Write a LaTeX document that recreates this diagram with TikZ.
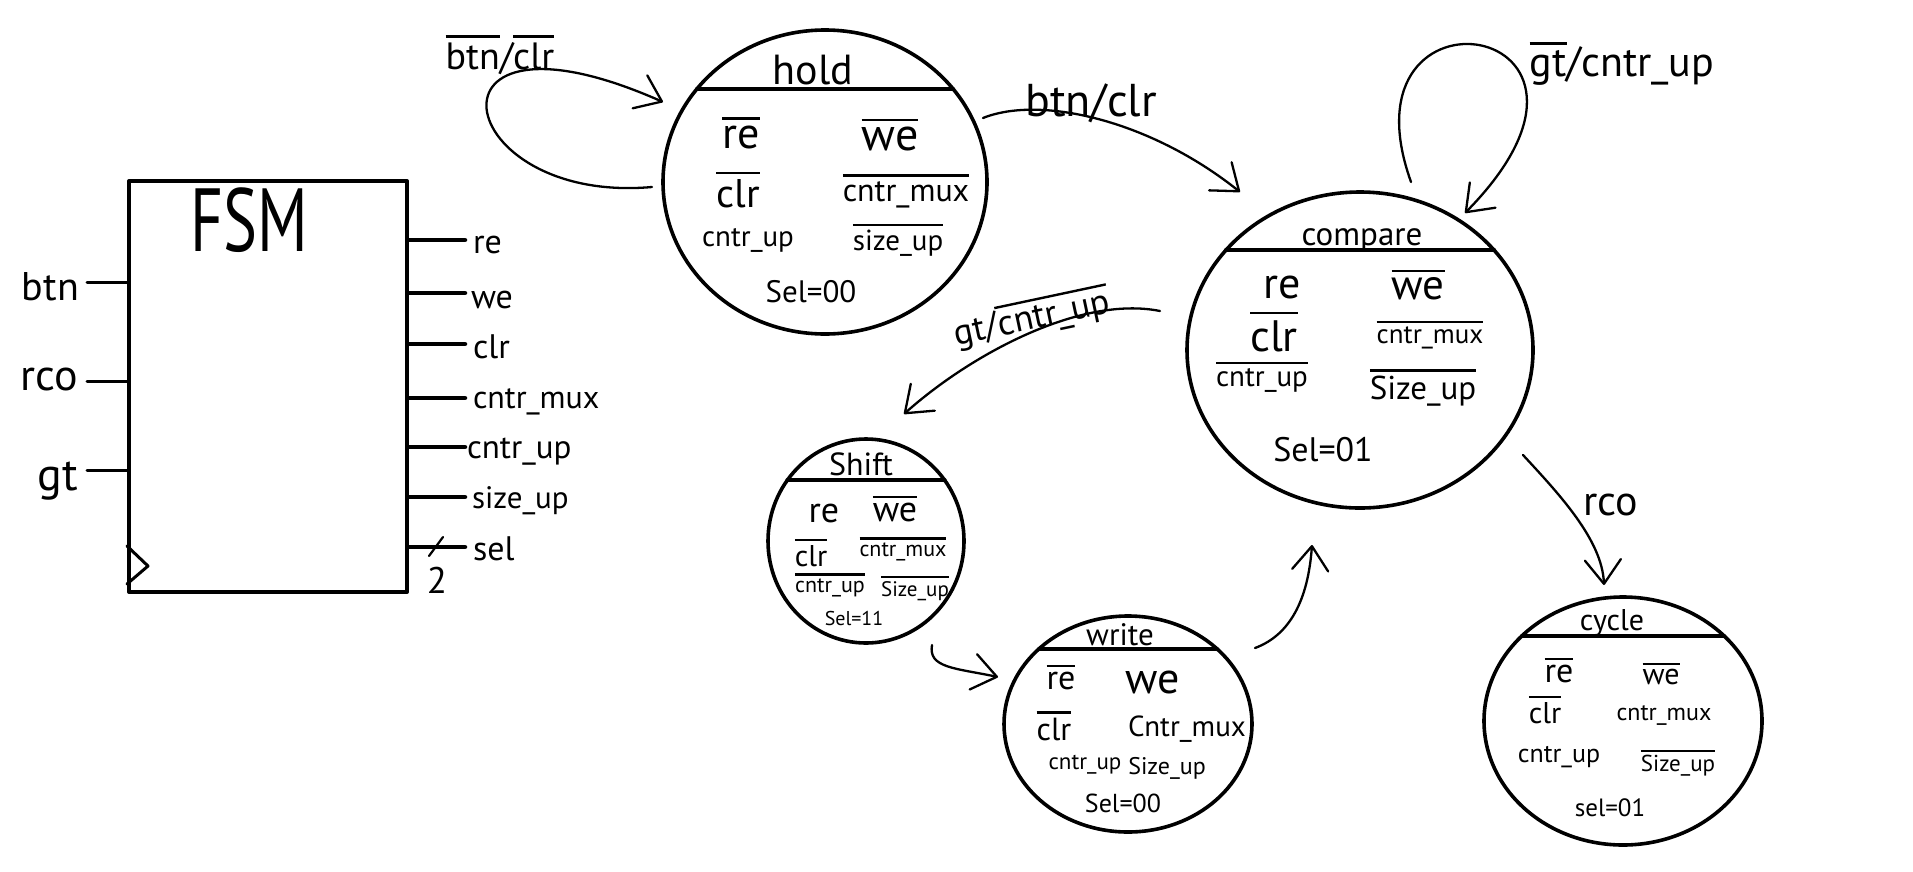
\documentclass[tikz,border=0pt]{standalone}
\usepackage{fontspec}
\setmainfont{PT Sans}
\usepackage{graphicx}
\usetikzlibrary{shapes.geometric,arrows.meta,calc}
\newcommand\fs[1]{\fontsize{#1}{#1}\selectfont}
\newcommand\ovl[1]{\vbox{\hrule height 2.4pt\kern 0.14em\hbox{#1}}}
\begin{document}
\begin{tikzpicture}[x=1pt,y=-1pt,line cap=round,line join=round,
  state/.style={ellipse,draw,line width=3.6pt,inner sep=0pt},
  bar/.style={line width=4.2pt},
  txt/.style={inner sep=0pt,outer sep=0pt},
  arr/.style={line width=2.3pt,-{Straight Barb[round,length=24pt,width=36pt,line width=2.3pt]}},
  inl/.style={line width=3pt},
  outl/.style={line width=4.5pt}]
\useasboundingbox (0,0) rectangle (1913,871);
\fill[white] (0,0) rectangle (1913,871);

% ---------- FSM block ----------
\node[draw,line width=4pt,minimum width=278pt,minimum height=411pt,inner sep=0pt,anchor=north west] (fsm) at (127,179) {};
\node[txt,font=\fs{64}] (fsmtitle) at (249,220) {\scalebox{1}[1.4]{FSM}};

\coordinate (i-btn) at (87,282);
\coordinate (i-rco) at (87,381);
\coordinate (i-gt) at (87,470);
\draw[inl] (i-btn) -- (i-btn -| fsm.west);
\draw[inl] (i-rco) -- (i-rco -| fsm.west);
\draw[inl] (i-gt) -- (i-gt -| fsm.west);
\node[txt,font=\fs{40},anchor=base east] (l-btn) at (79,300) {btn};
\node[txt,font=\fs{44},anchor=base east] (l-rco) at (78,390) {rco};
\node[txt,font=\fs{46},anchor=base east] (l-gt) at (78,490) {gt};

\foreach \n/\y in {re/240,we/293,clr/344,mux/398,up/447,size/497,sel/547}
  {\coordinate (o-\n) at (465,\y);
   \draw[outl] (o-\n -| fsm.east) -- (o-\n);}
\node[txt,font=\fs{34},anchor=base west] (l-re) at (473,253) {re};
\node[txt,font=\fs{34},anchor=base west] (l-we) at (471,308) {we};
\node[txt,font=\fs{34},anchor=base west] (l-clr) at (473,358) {clr};
\node[txt,font=\fs{32},anchor=base west] (l-mux) at (473,408) {cntr\_mux};
\node[txt,font=\fs{33},anchor=base west] (l-up) at (467,458) {cntr\_up};
\node[txt,font=\fs{31},anchor=base west] (l-size) at (472,508) {size\_up};
\node[txt,font=\fs{34},anchor=base west] (l-sel) at (473,560) {sel};
\draw[line width=2.2pt] ($(o-sel)+(-36,9)$) -- ($(o-sel)+(-22,-10)$);
\node[txt,font=\fs{37}] (l-two) at (437,580) {2};
\draw[line width=3pt] ($(fsm.south west)+(0,-48)$) -- ($(fsm.south west)+(21,-28)$) -- ($(fsm.south west)+(0,-10)$);

% ---------- hold ----------
\node[state,minimum width=324pt,minimum height=304pt] (hold) at (825,182) {};
\draw[bar] ($(hold.center)+(-128,-93)$) -- ($(hold.center)+(128,-93)$);
\node[txt,font=\fs{42},anchor=base] (hold-t) at (813,84) {hold};
\node[txt,font=\fs{44}] (hold-re) at (741,133) {\ovl{re}};
\node[txt,font=\fs{46}] (hold-we) at (890,135) {\ovl{we}};
\node[txt,font=\fs{40}] (hold-clr) at (738,190) {\ovl{clr}};
\node[txt,font=\fs{32}] (hold-mux) at (906,191) {\ovl{cntr\_mux}};
\node[txt,font=\fs{29}] (hold-up) at (748,240) {cntr\_up};
\node[txt,font=\fs{29}] (hold-size) at (898,240) {\ovl{size\_up}};
\node[txt,font=\fs{31}] (hold-sel) at (811,292) {Sel=00};

% ---------- compare ----------
\node[state,minimum width=346pt,minimum height=316pt] (cmp) at (1360,350) {};
\draw[bar] ($(cmp.center)+(-134,-100)$) -- ($(cmp.center)+(134,-100)$);
\node[txt,font=\fs{33},anchor=base] (cmp-t) at (1362,245) {compare};
\node[txt,font=\fs{44}] (cmp-re) at (1282,287) {re};
\node[txt,font=\fs{43}] (cmp-we) at (1418,285) {\ovl{we}};
\node[txt,font=\fs{44}] (cmp-clr) at (1274,332) {\ovl{clr}};
\node[txt,font=\fs{27}] (cmp-mux) at (1430,335) {\ovl{cntr\_mux}};
\node[txt,font=\fs{29}] (cmp-up) at (1262,377) {\ovl{cntr\_up}};
\node[txt,font=\fs{33}] (cmp-size) at (1423,388) {\ovl{Size\_up}};
\node[txt,font=\fs{34}] (cmp-sel) at (1323,450) {Sel=01};

% ---------- shift ----------
\node[state,minimum width=196pt,minimum height=204pt] (shift) at (866,541) {};
\draw[bar] ($(shift.center)+(-78.5,-61)$) -- ($(shift.center)+(78.5,-61)$);
\node[txt,font=\fs{32},anchor=base] (shift-t) at (861,475) {Shift};
\node[txt,font=\fs{36}] (shift-re) at (824,513) {re};
\node[txt,font=\fs{36}] (shift-we) at (895,509) {\ovl{we}};
\node[txt,font=\fs{30}] (shift-clr) at (811,553) {\ovl{clr}};
\node[txt,font=\fs{22}] (shift-mux) at (903,549) {\ovl{cntr\_mux}};
\node[txt,font=\fs{22}] (shift-up) at (830,585) {\ovl{cntr\_up}};
\node[txt,font=\fs{21}] (shift-size) at (915,588) {\ovl{Size\_up}};
\node[txt,font=\fs{20}] (shift-sel) at (854,618) {Sel=11};

% ---------- write ----------
\node[state,minimum width=248pt,minimum height=216pt] (write) at (1128,724) {};
\draw[bar] ($(write.center)+(-89,-75)$) -- ($(write.center)+(89,-75)$);
\node[txt,font=\fs{31},anchor=base] (write-t) at (1120,645) {write};
\node[txt,font=\fs{34}] (write-re) at (1061,677) {\ovl{re}};
\node[txt,font=\fs{44}] (write-we) at (1153,682) {we};
\node[txt,font=\fs{32}] (write-clr) at (1054,726) {\ovl{clr}};
\node[txt,font=\fs{29}] (write-mux) at (1187,729) {Cntr\_mux};
\node[txt,font=\fs{23}] (write-up) at (1085,765) {cntr\_up};
\node[txt,font=\fs{24}] (write-size) at (1167,768) {Size\_up};
\node[txt,font=\fs{26}] (write-sel) at (1123,803) {Sel=00};

% ---------- cycle ----------
\node[state,minimum width=278pt,minimum height=248pt] (cycle) at (1623,721) {};
\draw[bar] ($(cycle.center)+(-101,-85)$) -- ($(cycle.center)+(101,-85)$);
\node[txt,font=\fs{30},anchor=base] (cycle-t) at (1612,630) {cycle};
\node[txt,font=\fs{34}] (cycle-re) at (1559,670) {\ovl{re}};
\node[txt,font=\fs{30}] (cycle-we) at (1661,674) {\ovl{we}};
\node[txt,font=\fs{30}] (cycle-clr) at (1545,710) {\ovl{clr}};
\node[txt,font=\fs{24}] (cycle-mux) at (1664,715) {cntr\_mux};
\node[txt,font=\fs{26}] (cycle-up) at (1559,757) {cntr\_up};
\node[txt,font=\fs{23}] (cycle-size) at (1678,763) {\ovl{Size\_up}};
\node[txt,font=\fs{25}] (cycle-sel) at (1610,808) {sel=01};

% ---------- transitions ----------
\coordinate (hl-s) at (652,187);
\coordinate (hl-e) at (663,102);
\draw[arr] (hl-s) .. controls (450,205) and (410,-10) .. (hl-e);
\node[txt,font=\fs{38}] (hl-l) at (500,55) {\ovl{btn}/\ovl{clr}};

\coordinate (hc-s) at (983,118);
\coordinate (hc-e) at (1240,192);
\draw[arr] (hc-s) .. controls (1040,95) and (1150,120) .. (hc-e);
\node[txt,font=\fs{46}] (hc-l) at (1091,103) {btn/clr};

\coordinate (cl-s) at (1411,182);
\coordinate (cl-e) at (1465,213);
\draw[arr] (cl-s) .. controls (1335,-30) and (1655,20) .. (cl-e);
\node[txt,font=\fs{42}] (cl-l) at (1622,64) {\ovl{gt}/cntr\_up};

\coordinate (cs-s) at (1160,311);
\coordinate (cs-e) at (904,414);
\draw[arr] (cs-s) .. controls (1080,295) and (970,355) .. (cs-e);
\node[txt,font=\fs{36},rotate=12] (cs-l) at (1032,318) {gt/\ovl{cntr\_up}};

\coordinate (sw-s) at (932,645);
\coordinate (sw-e) at (998,677);
\draw[arr] (sw-s) .. controls (928,668) and (955,668) .. (sw-e);

\coordinate (wc-s) at (1255,648);
\coordinate (wc-e) at (1312,545);
\draw[arr] (wc-s) .. controls (1290,635) and (1308,600) .. (wc-e);

\coordinate (cc-s) at (1523,455);
\coordinate (cc-e) at (1604,585);
\draw[arr] (cc-s) .. controls (1560,495) and (1602,540) .. (cc-e);
\node[txt,font=\fs{42}] (cc-l) at (1611,505) {rco};
\end{tikzpicture}
\end{document}
